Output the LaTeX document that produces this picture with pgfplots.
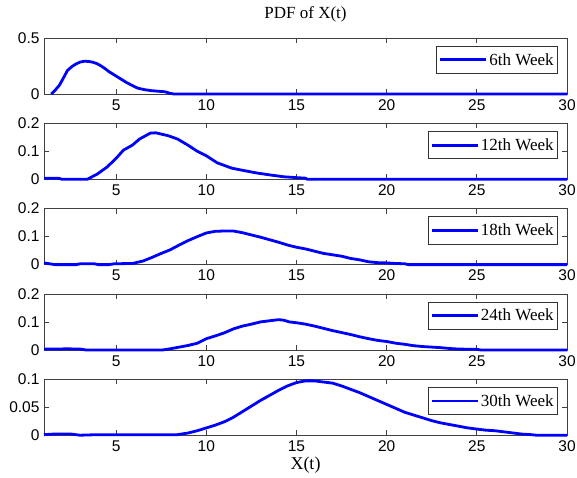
\documentclass[border=0pt]{standalone}
\usepackage{fontspec}
\setmainfont{Liberation Sans}
\newfontfamily\seriffont{Liberation Serif}
\usepackage{pgfplots}
\pgfplotsset{compat=1.18}
\pgfplotsset{
  pdfsub/.style={
    scale only axis, width=523pt, height=56pt,
    anchor=north west,
    xmin=1, xmax=30, xtick={5,10,...,30},
    ymin=0,
    tick align=inside, major tick length=5pt,
    xtick pos=both, ytick pos=both,
    xticklabel pos=lower, yticklabel pos=left,
    axis line style={black!75, line width=0.8pt},
    tick style={black!75, line width=0.7pt},
    ticklabel style={font=\fontsize{15.5}{15.5}\selectfont},
    /pgf/number format/assume math mode=true,
    scaled y ticks=false,
    yticklabel style={/pgf/number format/fixed, /pgf/number format/precision=2},
    xticklabel style={yshift=-2pt},
    yticklabel style={xshift=-1pt},
    clip=false, no markers,
    legend style={at={(0.983,0.86)}, anchor=north east, draw=black!80, line width=0.8pt,
      font=\fontsize{17}{17}\selectfont\seriffont, inner xsep=2pt, inner ysep=5pt},
    legend image code/.code={\draw[##1, line width=2.8pt] (0pt,0pt) -- (46pt,0pt);},
    every axis plot/.append style={color=blue, line width=2.8pt, line join=round, mark=none},
  }
}
\begin{document}
\begin{tikzpicture}
\path[use as bounding box] (0,0) rectangle (577pt,-477pt);

\begin{axis}[pdfsub, at={(44pt,-38pt)}, ymax=0.5, ytick={0,0.5},
  title={PDF of X(t)}, title style={font=\fontsize{17}{17}\selectfont\seriffont, at={(0.5,1)}, anchor=center, yshift=18pt}]
\addplot coordinates {(1.4,0) (1.6,0.03) (1.86,0.08) (2.1,0.15) (2.3,0.21) (2.55,0.245) (2.77,0.268) (3.0,0.285) (3.24,0.293) (3.5,0.29) (3.7,0.284) (3.95,0.27) (4.17,0.25) (4.4,0.225) (4.6,0.2) (5.0,0.16) (5.3,0.13) (5.55,0.105) (5.9,0.075) (6.2,0.052) (6.6,0.038) (6.95,0.03) (7.3,0.025) (7.7,0.02) (8.0,0.006) (8.2,0) (30,0)};
\addlegendentry{6th Week}
\end{axis}

\begin{axis}[pdfsub, at={(44pt,-123.3pt)}, ymax=0.2, ytick={0,0.1,0.2}]
\addplot coordinates {(1,0.004) (1.8,0.004) (2,0) (3.4,0) (3.96,0.019) (4.5,0.044) (5,0.075) (5.4,0.104) (5.9,0.122) (6.3,0.144) (6.9,0.165) (7.2,0.166) (7.87,0.156) (8.4,0.144) (8.98,0.122) (9.5,0.1) (10,0.084) (10.6,0.059) (11.4,0.04) (12.1,0.031) (12.8,0.0225) (13.6,0.015) (14.3,0.009) (15,0.006) (15.5,0.004) (15.6,0) (30,0)};
\addlegendentry{12th Week}
\end{axis}

\begin{axis}[pdfsub, at={(44pt,-208.6pt)}, ymax=0.2, ytick={0,0.1,0.2}]
\addplot coordinates {(1,0.006) (1.3,0.003) (1.6,0) (2.8,0) (3.0,0.003) (3.8,0.003) (4.0,0) (4.6,0) (4.9,0.003) (5.9,0.004) (6.5,0.013) (7,0.026) (7.5,0.04) (8,0.053) (8.5,0.07) (9,0.086) (9.5,0.1) (10,0.113) (10.5,0.119) (11,0.12) (11.5,0.12) (12,0.114) (12.5,0.106) (13,0.098) (13.5,0.089) (14,0.08) (14.5,0.07) (15,0.062) (15.5,0.056) (16,0.048) (16.5,0.04) (17,0.035) (17.5,0.03) (18,0.022) (18.5,0.017) (19,0.01) (19.5,0.007) (20,0.006) (20.5,0.004) (21,0.003) (21.2,0) (30,0)};
\addlegendentry{18th Week}
\end{axis}

\begin{axis}[pdfsub, at={(44pt,-293.9pt)}, ymax=0.2, ytick={0,0.1,0.2}]
\addplot coordinates {(1,0.003) (1.8,0.003) (2.2,0.004) (3,0.003) (3.3,0) (7.6,0) (8,0.004) (8.5,0.01) (9,0.016) (9.5,0.024) (10,0.04) (10.5,0.05) (11,0.061) (11.5,0.075) (12,0.085) (12.5,0.092) (13,0.1) (13.5,0.104) (14,0.108) (14.3,0.106) (14.6,0.1) (15,0.097) (15.5,0.092) (16,0.085) (16.5,0.077) (17,0.069) (17.5,0.062) (18,0.055) (18.5,0.047) (19,0.04) (19.5,0.034) (20,0.03) (20.5,0.024) (21,0.02) (21.5,0.015) (22,0.012) (22.5,0.01) (23,0.008) (23.5,0.005) (24,0.003) (25,0.002) (25.2,0) (30,0)};
\addlegendentry{24th Week}
\end{axis}

\begin{axis}[pdfsub, at={(44pt,-379.2pt)}, ymax=0.1, ytick={0,0.05,0.1},
  xlabel={X(t)}, xlabel style={font=\fontsize{18}{18}\selectfont\seriffont, at={(axis description cs:0.5,0)}, anchor=center, yshift=-30pt}]
\addplot coordinates {(1,0.001) (1.5,0.002) (2.5,0.002) (3,0) (4,0.001) (8.4,0.001) (9,0.004) (9.5,0.008) (10,0.013) (10.5,0.018) (11,0.024) (11.5,0.032) (12,0.042) (12.5,0.052) (13,0.062) (13.5,0.071) (14,0.08) (14.5,0.088) (15,0.094) (15.5,0.097) (16,0.097) (16.5,0.095) (17,0.093) (17.5,0.088) (18,0.082) (18.5,0.076) (19,0.069) (19.5,0.062) (20,0.055) (20.5,0.048) (21,0.041) (21.5,0.036) (22,0.031) (22.5,0.026) (23,0.022) (23.5,0.019) (24,0.016) (24.5,0.013) (25,0.011) (25.5,0.009) (26,0.008) (26.5,0.006) (27,0.004) (27.5,0.002) (28,0.001) (28.3,0) (30,0)};
\addlegendentry{30th Week}
\end{axis}
\end{tikzpicture}
\end{document}
